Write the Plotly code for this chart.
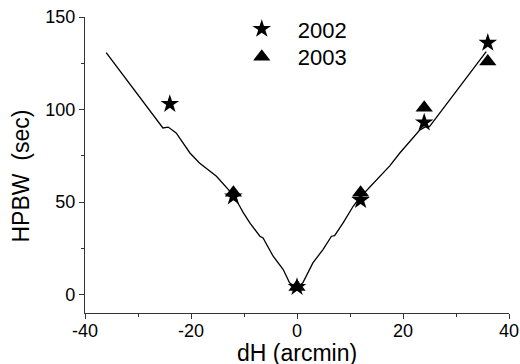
import plotly.graph_objects as go

# Beam-width model curve (offset in arcmin vs HPBW in sec)
curve_dh = [-36, -25.3, -24.3, -22.8, -20.2, -18.4, -15.2, -12.1, -10.8, -10.2, -8.9,
            -7.0, -6.4, -4.5, -2.6, -1.4, 0.0, 1.1, 3.0, 4.9, 6.5, 7.1, 8.7, 10.6,
            11.8, 15.6, 17.5, 19.4, 23.2, 24.4, 25.0, 35.7]
curve_hpbw = [130.8, 90.0, 90.5, 87.3, 76.5, 71.1, 63.9, 54.0, 47.7, 44.5, 38.7,
              31.5, 30.6, 20.7, 13.5, 6.3, 3.5, 6.3, 17.1, 24.3, 31.5, 31.8, 38.7, 47.7,
              52.2, 63.5, 69.5, 76.5, 89.0, 90.8, 90.8, 131.3]

# Measured beam widths
dh_2002 = [-24, -12, 0, 12, 24, 36]
hpbw_2002 = [103, 53, 4, 51, 93, 136]
dh_2003 = [-12, 0, 12, 24, 36]
hpbw_2003 = [55, 4, 55, 101, 126]

x_ticks = [-40, -20, 0, 20, 40]
y_ticks = [0, 50, 100, 150]

font_family = "Liberation Sans, Arial, sans-serif"
axis_color = "#333"

fig = go.Figure()
fig.add_trace(go.Scatter(x=curve_dh, y=curve_hpbw, mode="lines",
                         line=dict(color="black", width=1.3), showlegend=False))
fig.add_trace(go.Scatter(x=dh_2002, y=hpbw_2002, mode="markers", name="2002",
                         marker=dict(symbol="star", size=14, color="black"),
                         legend="legend"))
fig.add_trace(go.Scatter(x=dh_2003, y=hpbw_2003, mode="markers", name="2003",
                         marker=dict(symbol="triangle-up", size=15, color="black"),
                         legend="legend2"))

axis_common = dict(showgrid=False, zeroline=False, showline=True, linecolor=axis_color,
                   linewidth=1.2, ticks="outside", ticklen=5, tickwidth=1.2,
                   tickcolor=axis_color, automargin=False,
                   tickfont=dict(size=18, color="black", family=font_family),
                   mirror=False)

fig.update_xaxes(range=[-40, 40], tickvals=x_ticks, ticktext=[str(v) for v in x_ticks],
                 ticklabelstandoff=-4,
                 minor=dict(tickvals=[-30, -10, 10, 30], ticks="outside", ticklen=3,
                            tickcolor=axis_color, tickwidth=1.2),
                 **axis_common)
fig.update_yaxes(range=[-10, 150], tickvals=y_ticks, ticktext=[str(v) for v in y_ticks],
                 minor=dict(tickvals=[25, 75, 125], ticks="outside", ticklen=3,
                            tickcolor=axis_color, tickwidth=1.2),
                 **axis_common)

# Axis titles placed as annotations in paper coordinates
fig.add_annotation(text="dH (arcmin)", xref="paper", yref="paper", x=0.5, y=-0.135,
                   xanchor="center", yanchor="middle", showarrow=False,
                   font=dict(size=23, color="black", family=font_family))
fig.add_annotation(text="HPBW\u00a0\u00a0(sec)", xref="paper", yref="paper", x=-0.152, y=0.463,
                   xanchor="center", yanchor="middle", showarrow=False, textangle=-90,
                   font=dict(size=23, color="black", family=font_family))

legend_style = dict(xanchor="left", yanchor="middle",
                    font=dict(size=22, color="black", family=font_family),
                    bgcolor="rgba(0,0,0,0)", itemwidth=62)

fig.update_layout(
    width=520, height=364,
    margin=dict(l=85, r=11, t=17, b=51, autoexpand=False),
    plot_bgcolor="white", paper_bgcolor="white",
    font=dict(family=font_family, color="black"),
    legend=dict(x=0.332, y=0.959, **legend_style),
    legend2=dict(x=0.332, y=0.865, **legend_style),
)

fig.write_html("out.html")
